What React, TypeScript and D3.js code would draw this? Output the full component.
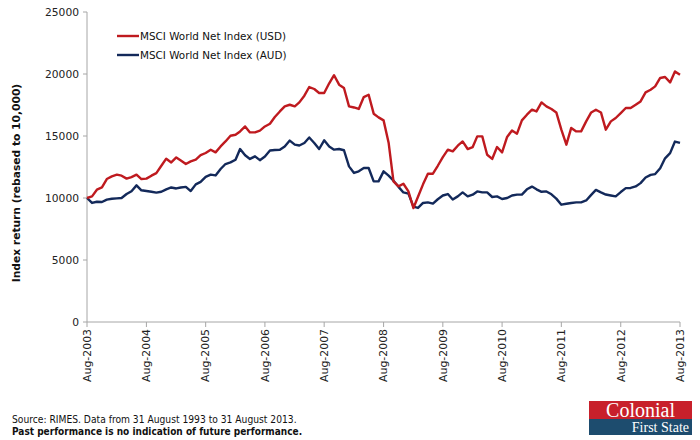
import React from "react";
import * as d3 from "d3";

// monthly, Aug-2003 .. Aug-2013, rebased to 10,000
const usdSeries = [
  10000, 10130, 10670, 10850, 11530, 11740, 11880, 11800, 11560, 11690, 11880, 11530,
  11560, 11800, 12010, 12600, 13170, 12870, 13270, 13030, 12740, 12950, 13090, 13450,
  13630, 13890, 13680, 14160, 14560, 15020, 15100, 15370, 15770, 15290, 15290, 15430,
  15770, 15990, 16530, 16980, 17390, 17520, 17390, 17710, 18250, 18950, 18790, 18470,
  18470, 19250, 19900, 19140, 18870, 17390, 17300, 17180, 18140, 18330, 16800, 16500,
  16260, 14460, 11340, 10940, 11150, 10530, 9190, 10100, 11100, 11960, 11960, 12600,
  13300, 13900, 13760, 14220, 14560, 13950, 14110, 14970, 14970, 13490, 13150, 14110,
  13680, 14920, 15450, 15190, 16260, 16720, 17120, 16980, 17710, 17390, 17180, 16900,
  15510, 14300, 15650, 15370, 15370, 16180, 16900, 17120, 16900, 15510, 16180, 16450,
  16850, 17260, 17260, 17520, 17790, 18520, 18730, 19000, 19680, 19760, 19320, 20210,
  19940,
];

const audSeries = [
  10000, 9600, 9700, 9680, 9870, 9940, 9970, 10000, 10320, 10550, 11020, 10620,
  10560, 10500, 10430, 10500, 10700, 10850, 10770, 10850, 10900, 10560, 11100, 11300,
  11700, 11880, 11820, 12340, 12740, 12870, 13090, 13950, 13450, 13150, 13360, 13050,
  13350, 13830, 13870, 13890, 14150, 14630, 14300, 14230, 14440, 14880, 14440, 13950,
  14650, 14150, 13900, 13950, 13850, 12550, 12020, 12150, 12420, 12420, 11340, 11340,
  12150, 11800, 11400, 10900, 10450, 10350, 9300, 9200, 9600, 9650, 9550, 9900,
  10200, 10320, 9880, 10130, 10450, 10130, 10270, 10530, 10450, 10450, 10080, 10130,
  9920, 10000, 10200, 10270, 10270, 10700, 10920, 10700, 10500, 10530, 10300, 9950,
  9460, 9540, 9600, 9650, 9650, 9800, 10250, 10650, 10450, 10280, 10200, 10130,
  10480, 10800, 10810, 10930, 11200, 11650, 11860, 11930, 12400, 13200, 13620, 14550,
  14440,
];

const seriesNames = ["MSCI World Net Index (USD)", "MSCI World Net Index (AUD)"];
const seriesColors = ["#bf1a1f", "#13295a"];

const yTickValues = [0, 5000, 10000, 15000, 20000, 25000];
const xTickYears = [2003, 2004, 2005, 2006, 2007, 2008, 2009, 2010, 2011, 2012, 2013];

const yAxisTitle = "Index return (rebased to 10,000)";
const sourceNote = "Source: RIMES. Data from 31 August 1993 to 31 August 2013.";
const disclaimer = "Past performance is no indication of future performance.";

const W = 700;
const H = 440;
const margin = { top: 12, right: 20, bottom: 118, left: 87 };
const FONT = "'DejaVu Sans', Verdana, sans-serif";
const NOTE_FONT = "'DejaVu Sans Condensed', Tahoma, sans-serif";

export default function App() {
  const start = new Date(2003, 7, 1);
  const end = new Date(2013, 7, 1);
  const dates = d3.timeMonth.range(start, d3.timeMonth.offset(end, 1));

  const x = d3.scaleTime([start, end], [margin.left, W - margin.right]);
  const y = d3.scaleLinear([0, 25000], [H - margin.bottom, margin.top]);

  const line = d3.line<number>()
    .x((d, i) => x(dates[i]))
    .y((d) => y(d));

  const fmt = d3.timeFormat("%b-%Y");
  const xTicks = xTickYears.map((yr) => new Date(yr, 7, 1));
  const axisY = H - margin.bottom;

  return <svg width={W} height={H} style={{ display: "block", fontFamily: FONT }}>
    <style>{"body{margin:0}"}</style>
    <rect width={W} height={H} fill="#ffffff" />

    {/* y axis */}
    <g>
      <line x1={margin.left} x2={margin.left} y1={y(25000)} y2={axisY} stroke="#a6a6a6" />
      {yTickValues.map((t) => (
        <g key={t}>
          <line x1={margin.left - 4} x2={margin.left} y1={y(t)} y2={y(t)} stroke="#a6a6a6" />
          <text x={margin.left - 8} y={y(t)} dy="0.35em" textAnchor="end"
            fontSize={10.7} fill="#222">{t}</text>
        </g>
      ))}
      <text transform={`translate(20,${(y(25000) + axisY) / 2 + 16}) rotate(-90)`}
        textAnchor="middle" fontSize={10.7} fontWeight="bold" fill="#111">{yAxisTitle}</text>
    </g>

    {/* x axis */}
    <g>
      <line x1={margin.left} x2={W - margin.right} y1={axisY} y2={axisY} stroke="#a6a6a6" />
      {xTicks.map((d) => (
        <g key={d.getTime()}>
          <line x1={x(d)} x2={x(d)} y1={axisY} y2={axisY + 5} stroke="#a6a6a6" />
          <text transform={`translate(${x(d)},${axisY + 7}) rotate(-90)`} dy="0.35em"
            textAnchor="end" fontSize={10.9} fill="#222">{fmt(d)}</text>
        </g>
      ))}
    </g>

    {/* lines */}
    <path d={line(audSeries)!} fill="none" stroke={seriesColors[1]} strokeWidth={2.4}
      strokeLinejoin="round" />
    <path d={line(usdSeries)!} fill="none" stroke={seriesColors[0]} strokeWidth={2.4}
      strokeLinejoin="round" />

    {/* legend */}
    <g>
      {seriesNames.map((name, i) => (
        <g key={name} transform={`translate(117,${36 + i * 19})`}>
          <line x1={0} x2={22} y1={0} y2={0} stroke={seriesColors[i]} strokeWidth={2.4} />
          <text x={23} y={0} dy="0.35em" fontSize={10.4} fill="#111">{name}</text>
        </g>
      ))}
    </g>

    {/* footnotes */}
    <text x={12} y={423} fontSize={10.2} fill="#111" fontFamily={NOTE_FONT}>{sourceNote}</text>
    <text x={12} y={435} fontSize={10} fontWeight="bold" fill="#111"
      fontFamily={NOTE_FONT}>{disclaimer}</text>

    {/* logo */}
    <g>
      <rect x={589} y={401} width={103} height={18} fill="#c8202b" />
      <rect x={589} y={419} width={103} height={16} fill="#1d4c6e" />
      <text x={640.5} y={416.5} textAnchor="middle" fontSize={20}
        fontFamily="'Liberation Serif', 'DejaVu Serif', serif" fill="#fff">Colonial</text>
      <text x={689} y={432} textAnchor="end" fontSize={14}
        fontFamily="'Liberation Serif', 'DejaVu Serif', serif" fill="#fff">First State</text>
    </g>
  </svg>;
}
